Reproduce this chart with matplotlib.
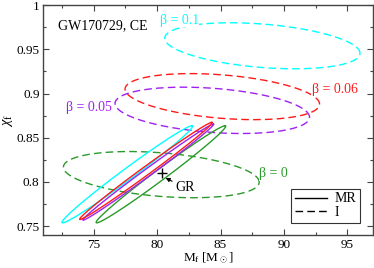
import numpy as np
import matplotlib
matplotlib.use("Agg")
import matplotlib.pyplot as plt
from matplotlib.ticker import MultipleLocator
from matplotlib.lines import Line2D

plt.rcParams["font.family"] = ["Liberation Serif", "DejaVu Serif"]
plt.rcParams["mathtext.fontset"] = "custom"
plt.rcParams["mathtext.rm"] = "Liberation Serif"
plt.rcParams["mathtext.it"] = "Liberation Serif:italic"

### data ###
# each ellipse: centre (cx, cy), major vector (ux, uy), minor vector (vx, vy)
# dashed = "I", solid = "MR"
dash_colors = ["#00ffff", "#ff1a1a", "#a020f0", "#2a9a2a"]
dash_cx = [88.3, 85.14, 84.35, 80.33]
dash_cy = [0.954, 0.8965, 0.881, 0.8083]
dash_ux = [7.7, 7.67, 7.67, 7.72]
dash_uy = [-0.0085, -0.0085, -0.0078, -0.0085]
dash_vx = [0.0, 0.0, 0.0, 0.0]
dash_vy = [0.0246, 0.0246, 0.025, 0.0247]

solid_colors = ["#00ffff", "#2a9a2a", "#a020f0", "#ff1a1a"]
solid_lo_x = [72.55, 75.24, 74.16, 73.92]
solid_lo_y = [0.7538, 0.7538, 0.7568, 0.7576]
solid_hi_x = [82.74, 85.36, 84.44, 84.31]
solid_hi_y = [0.8636, 0.8636, 0.8656, 0.8674]
solid_halfw = [0.75, 0.72, 0.5, 0.56]

gr_x, gr_y = 80.37, 0.8106

labels = ["β = 0.1", "β = 0.06", "β = 0.05", "β = 0"]
label_x = [80.2, 92.2, 72.8, 88.05]
label_y = [0.983, 0.904, 0.8845, 0.8094]


def ellipse(cx, cy, ux, uy, vx, vy, n=400):
    t = np.linspace(0, 2 * np.pi, n)
    return cx + ux * np.cos(t) + vx * np.sin(t), cy + uy * np.cos(t) + vy * np.sin(t)


fig = plt.figure(figsize=(3.74, 2.68), dpi=100)
ax = fig.add_axes([0.115, 0.123, 0.8815, 0.858])

for i in range(len(dash_cx)):
    x, y = ellipse(dash_cx[i], dash_cy[i], dash_ux[i], dash_uy[i], dash_vx[i], dash_vy[i])
    ax.plot(x, y, color=dash_colors[i], lw=1.0, ls=(0, (5.5, 3)))

for i in range(len(solid_lo_x)):
    cx = (solid_lo_x[i] + solid_hi_x[i]) / 2
    cy = (solid_lo_y[i] + solid_hi_y[i]) / 2
    ux = solid_hi_x[i] - cx
    uy = solid_hi_y[i] - cy
    x, y = ellipse(cx, cy, ux, uy, solid_halfw[i], 0.0)
    ax.plot(x, y, color=solid_colors[i], lw=1.0)

# GR point
ax.plot(gr_x, gr_y, marker="+", color="black", ms=7, mew=1.0)
ax.annotate("GR", xy=(gr_x + 0.3, gr_y - 0.006), xytext=(81.4, 0.7935),
            fontsize=10, va="center", ha="left",
            arrowprops=dict(arrowstyle="-|>", color="black", lw=0.8,
                            mutation_scale=6, shrinkA=0, shrinkB=0))

for i in range(len(labels)):
    ax.text(label_x[i], label_y[i], labels[i], color=dash_colors[i], fontsize=10,
            va="center", ha="left",
            bbox=dict(facecolor="white", edgecolor="none", pad=0.5))

ax.text(72.2, 0.977, "GW170729, CE", fontsize=10, va="center", ha="left")

ax.set_xlim(71, 97)
ax.set_ylim(0.74, 1.0)
ax.xaxis.set_major_locator(MultipleLocator(5))
ax.xaxis.set_minor_locator(MultipleLocator(2.5))
ax.yaxis.set_major_locator(MultipleLocator(0.05))
ax.yaxis.set_minor_locator(MultipleLocator(0.025))
ax.yaxis.set_major_formatter(plt.FuncFormatter(lambda v, p: "%g" % round(v, 3)))
ax.tick_params(which="both", direction="in", top=True, right=True,
               labelsize=9.5, color="#444444", width=0.8, pad=2.5)
ax.tick_params(which="major", length=4)
ax.tick_params(which="minor", length=2)
for s in ax.spines.values():
    s.set_color("#444444")
    s.set_linewidth(1.0)

ax.set_xlabel(r"M$_\mathrm{f}$ [M$_\odot$]", fontsize=9.5, labelpad=0)
ax.set_ylabel(r"$\chi_\mathrm{f}$", fontsize=10.5, labelpad=1)

handles = [Line2D([], [], color="black", lw=1.0),
           Line2D([], [], color="black", lw=1.0, ls=(0, (5.5, 3)))]
leg = ax.legend(handles, ["MR", "I"], loc="lower right", fontsize=10,
                frameon=True, fancybox=False, handlelength=2.3,
                borderpad=0.25, labelspacing=0.05, handletextpad=0.6,
                borderaxespad=0.9)
leg.get_frame().set_edgecolor("black")
leg.get_frame().set_linewidth(0.8)

fig.savefig("out.png", dpi=100)
